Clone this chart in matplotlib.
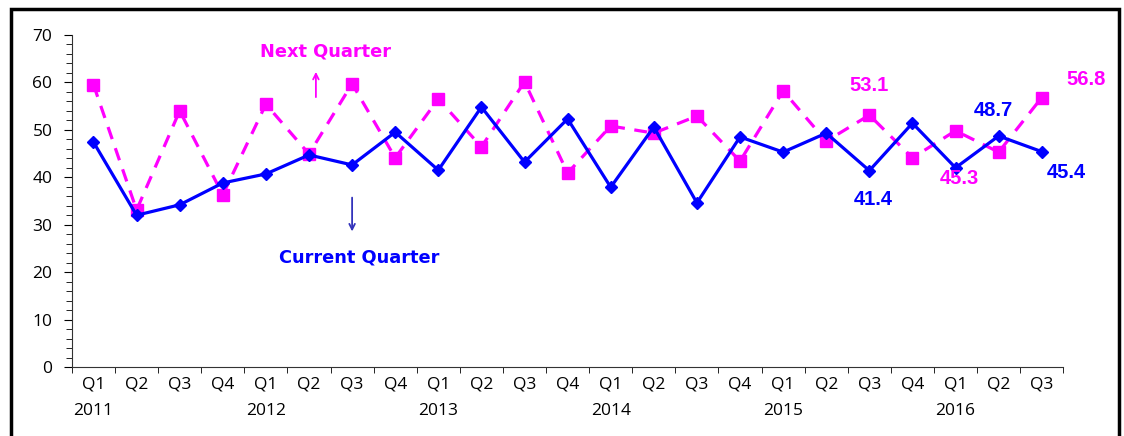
import numpy as np
import matplotlib
matplotlib.use("Agg")
from matplotlib import pyplot as plt
from matplotlib.patches import Rectangle

quarters = ["Q1", "Q2", "Q3", "Q4"] * 5 + ["Q1", "Q2", "Q3"]
years = ["2011", "2012", "2013", "2014", "2015", "2016"]

current_quarter = [47.4, 32.0, 34.2, 38.8, 40.7, 44.7, 42.6, 49.5,
                   41.5, 54.8, 43.2, 52.3, 37.9, 50.6, 34.6, 48.5,
                   45.3, 49.3, 41.4, 51.4, 42.0, 48.7, 45.4]
next_quarter = [59.5, 33.1, 54.0, 36.3, 55.4, 44.9, 59.7, 44.1,
                56.5, 46.4, 60.1, 40.9, 50.8, 49.3, 52.9, 43.4,
                58.2, 47.6, 53.1, 44.1, 49.8, 45.3, 56.8]

BLUE = "#0000FF"
MAGENTA = "#FF00FF"

x = np.arange(len(quarters))
labels = []
for i, q in enumerate(quarters):
    if i % 4 == 0:
        labels.append(q + "\n" + years[i // 4])
    else:
        labels.append(q)

fig = plt.figure(figsize=(11.24, 4.36), dpi=100)
ax = fig.add_axes([0.064, 0.158, 0.882, 0.762])

ax.plot(x, next_quarter, color=MAGENTA, lw=2.3, ls=(0, (4, 3)),
        marker="s", ms=8, mec=MAGENTA, mfc=MAGENTA, zorder=2)
ax.plot(x, current_quarter, color=BLUE, lw=2.3,
        marker="D", ms=6.5, mec=BLUE, mfc=BLUE, zorder=3)

ax.set_xlim(-0.5, len(x) - 0.5)
ax.set_ylim(0, 70)
ax.set_yticks(np.arange(0, 71, 10))
ax.set_yticks(np.arange(0, 71, 2), minor=True)
ax.set_xticks(x)
ax.set_xticklabels(labels, fontsize=12.5, family="Open Sans", linespacing=1.85)
ax.set_xticks(np.arange(-0.5, len(x), 1), minor=True)
ax.tick_params(axis="x", which="major", length=0, pad=7)
ax.tick_params(axis="x", which="minor", length=4, direction="out")
ax.tick_params(axis="y", which="major", length=6, labelsize=12.5, pad=8)
ax.tick_params(axis="y", which="minor", length=4)
for t in ax.get_yticklabels():
    t.set_family("Open Sans")

for s in ["top", "right"]:
    ax.spines[s].set_visible(False)
ax.spines["left"].set_color("#333333")
ax.spines["bottom"].set_color("#333333")

# data labels
lbl = dict(fontsize=14.5, fontweight="bold", family="Liberation Sans",
           ha="center", va="center", textcoords="offset points")
ax.annotate("53.1", (18, next_quarter[18]), xytext=(0, 21), color=MAGENTA, **lbl)
ax.annotate("41.4", (18, current_quarter[18]), xytext=(3, -21), color=BLUE, **lbl)
ax.annotate("48.7", (21, current_quarter[21]), xytext=(-4, 18), color=BLUE, **lbl)
ax.annotate("45.3", (21, next_quarter[21]), xytext=(-28, -19), color=MAGENTA, **lbl)
ax.annotate("56.8", (22, next_quarter[22]), xytext=(32, 13), color=MAGENTA, **lbl)
ax.annotate("45.4", (22, current_quarter[22]), xytext=(18, -15), color=BLUE, **lbl)

# series captions with arrows
ax.annotate("", xy=(5.16, 62.8), xytext=(5.16, 56.3),
            arrowprops=dict(arrowstyle="->", color=MAGENTA, lw=1.3))
ax.text(5.39, 66.4, "Next Quarter", color=MAGENTA, fontsize=12.8,
        fontweight="bold", family="DejaVu Sans", ha="center", va="center")
ax.annotate("", xy=(6.0, 28.0), xytext=(6.0, 36.3),
            arrowprops=dict(arrowstyle="->", color="#3333BB", lw=1.3))
ax.text(6.16, 23.2, "Current Quarter", color=BLUE, fontsize=12.8,
        fontweight="bold", family="DejaVu Sans", ha="center", va="center")

# outer frame
fig.patches.append(Rectangle((11 / 1124, -0.05), 1108 / 1124, 1.05 - 9 / 436,
                             transform=fig.transFigure, fill=False,
                             ec="black", lw=2.5))

fig.savefig("out.png", dpi=100)
